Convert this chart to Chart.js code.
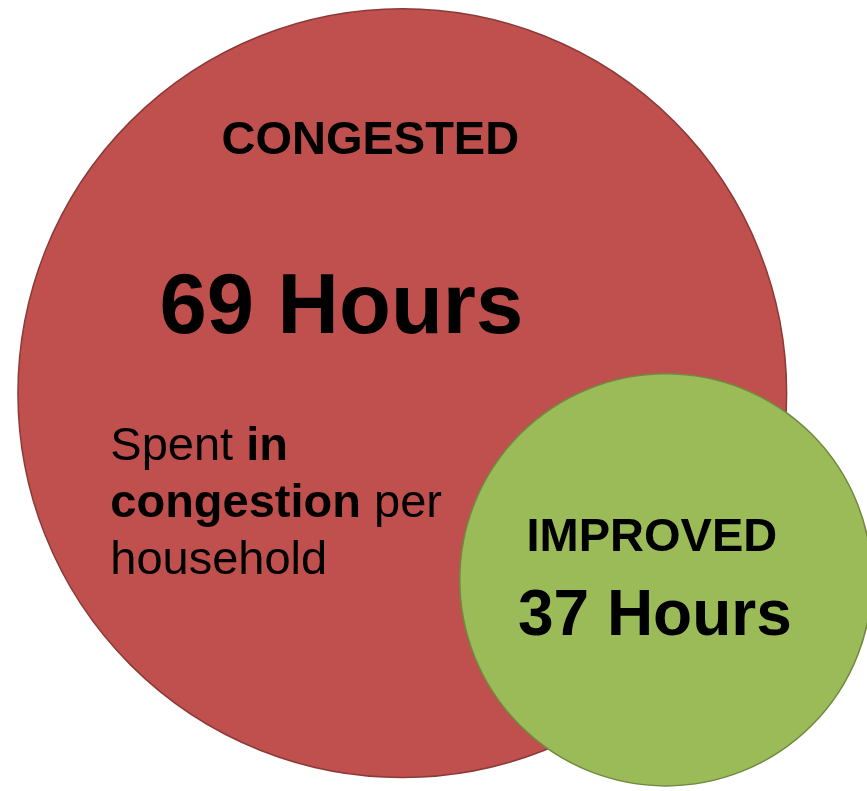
<!DOCTYPE html>
<html>
<head>
<meta charset="utf-8">
<script src="https://cdn.jsdelivr.net/npm/chart.js@4"></script>
<style>
  html, body { margin: 0; padding: 0; background: #fff; }
  #wrap { width: 867px; height: 791px; }
</style>
</head>
<body>
<div id="wrap"><canvas id="hoursChart"></canvas></div>
<script>
// chart data
const groups = ["CONGESTED", "IMPROVED"];
const hours = [69, 37];
// where each bubble sits, in chart units (0-100 both ways)
const bubbleX = [46.4, 76.8];
const bubbleY = [49.7, 73.3];

const fills = ["#C0504D", "#9BBB59"];
const borders = ["#8C3A38", "#71893F"];
const pxPerHour = 5.57;

const FONT = "'Liberation Sans', Arial, sans-serif";

// labels drawn on top of the bubbles
const textPlugin = {
  id: "bubbleText",
  afterDatasetsDraw(chart) {
    const ctx = chart.ctx;
    const xs = chart.scales.x, ys = chart.scales.y;
    const cx0 = xs.getPixelForValue(bubbleX[0]);
    const cy0 = ys.getPixelForValue(bubbleY[0]);
    const cx1 = xs.getPixelForValue(bubbleX[1]);
    const cy1 = ys.getPixelForValue(bubbleY[1]);
    ctx.save();
    ctx.fillStyle = "#000";
    ctx.textBaseline = "alphabetic";
    ctx.textAlign = "center";

    ctx.font = "bold 47px " + FONT;
    ctx.fillText(groups[0], cx0 - 32, cy0 - 239);
    ctx.font = "bold 85px " + FONT;
    ctx.fillText(hours[0] + " Hours", cx0 - 61, cy0 - 60);

    // sentence with mixed weights
    ctx.textAlign = "left";
    const left = cx0 - 292;
    const runs = [
      [["Spent ", false], ["in", true]],
      [["congestion", true], [" per", false]],
      [["household", false]]
    ];
    runs.forEach((line, i) => {
      let x = left;
      const y = cy0 + 67 + i * 57;
      line.forEach(([txt, bold]) => {
        ctx.font = (bold ? "bold " : "") + "47px " + FONT;
        ctx.fillText(txt, x, y);
        x += ctx.measureText(txt).width;
      });
    });

    ctx.textAlign = "center";
    ctx.font = "bold 47px " + FONT;
    ctx.fillText(groups[1], cx1 - 14, cy1 - 29);
    ctx.font = "bold 64px " + FONT;
    ctx.fillText(hours[1] + " Hours", cx1 - 11, cy1 + 55);
    ctx.restore();
  }
};

new Chart(document.getElementById("hoursChart"), {
  type: "bubble",
  data: {
    datasets: groups.map((g, i) => ({
      label: g,
      data: [{ x: bubbleX[i], y: bubbleY[i] }],
      backgroundColor: fills[i],
      borderColor: borders[i],
      borderWidth: 1.5,
      radius: hours[i] * pxPerHour,
      hoverRadius: 0,
      // later groups sit on top
      order: groups.length - i
    }))
  },
  options: {
    responsive: true,
    maintainAspectRatio: false,
    animation: false,
    clip: false,
    layout: { padding: 0, autoPadding: false },
    plugins: {
      legend: { display: false },
      tooltip: { enabled: false }
    },
    events: [],
    scales: {
      x: { type: "linear", min: 0, max: 100, display: false },
      y: { type: "linear", min: 0, max: 100, reverse: true, display: false }
    }
  },
  plugins: [textPlugin]
});
</script>
</body>
</html>
